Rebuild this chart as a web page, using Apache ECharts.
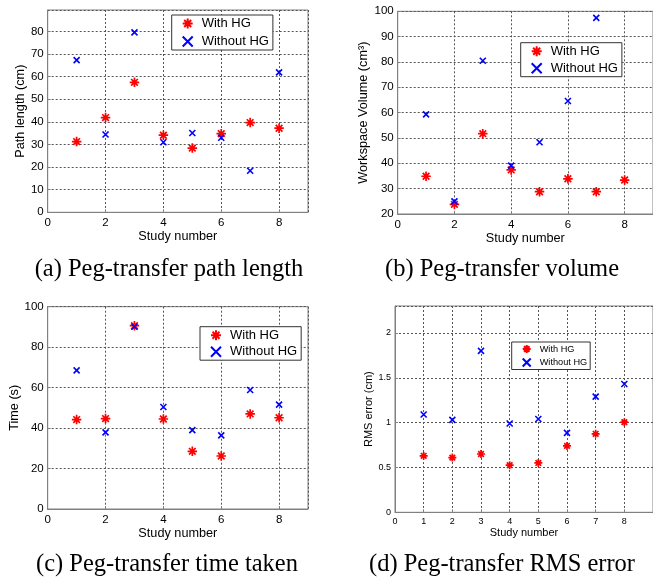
<!DOCTYPE html>
<html>
<head>
<meta charset="utf-8">
<script src="https://cdn.jsdelivr.net/npm/echarts@6/dist/echarts.min.js"></script>
<style>
  html, body { margin: 0; padding: 0; background: #fff; }
  #main { width: 653px; height: 581px; }
</style>
</head>
<body>
<div id="main"></div>
<script>
// study numbers on the x axis
var studies = [1, 2, 3, 4, 5, 6, 7, 8];

// (a) path length (cm)
var pathWithHG = [31.3, 41.9, 57.5, 34.1, 28.4, 34.8, 39.7, 37.2];
var pathWithoutHG = [67.3, 34.4, 79.6, 31.0, 35.1, 33.0, 18.4, 61.9];
// (b) workspace volume (cm3) - no point visible for study 8 without HG
var volWithHG = [34.9, 23.8, 51.7, 37.4, 28.8, 33.9, 28.8, 33.4];
var volWithoutHG = [59.3, 25.0, 80.5, 39.1, 48.3, 64.6, 97.4, null];
// (c) time taken (s)
var timeWithHG = [44.2, 44.7, 90.6, 44.5, 28.5, 26.2, 47.0, 45.1];
var timeWithoutHG = [68.5, 37.9, 90.1, 50.4, 39.0, 36.4, 58.8, 51.6];
// (d) RMS error (cm)
var rmsWithHG = [0.63, 0.61, 0.65, 0.525, 0.55, 0.74, 0.875, 1.005];
var rmsWithoutHG = [1.09, 1.03, 1.80, 0.99, 1.04, 0.886, 1.29, 1.43];

var captions = [
  "(a) Peg-transfer path length",
  "(b) Peg-transfer volume",
  "(c) Peg-transfer time taken",
  "(d) Peg-transfer RMS error"
];

// matlab style markers
var starIcon = "path://M5,0L5,10M0,5L10,5M1.5,1.5L8.5,8.5M8.5,1.5L1.5,8.5";
var crossIcon = "path://M0,0L10,10M10,0L0,10";

function pairs(ys) {
  var out = [];
  ys.forEach(function (y, i) {
    if (y !== null) out.push([studies[i], y]);
  });
  return out;
}

var myChart = echarts.init(document.getElementById("main"));

// layout of the four panels
var panels = [
  { grid: { left: 47.7, top: 10, width: 260.3, height: 202.3 },
    ymin: 0, ymax: 89.5, yint: 10, xint: 2, yName: "Path length (cm)", yGap: 21, xGap: 16,
    w: pathWithHG, wo: pathWithoutHG, fs: 11.5, nfs: 12.7, lfs: 13,
    legend: { left: 171.7, top: 15, padding: [2, 4, 2, 10], itemGap: 5 } },
  { grid: { left: 397.7, top: 11.3, width: 258.3, height: 202.7 },
    ymin: 20, ymax: 100, yint: 10, xint: 2, yName: "Workspace Volume (cm\u00b3)", yGap: 28, xGap: 16,
    w: volWithHG, wo: volWithoutHG, fs: 11.5, nfs: 12.7, lfs: 13,
    legend: { left: 520.7, top: 42.7, padding: [2, 4, 2, 10], itemGap: 4 } },
  { grid: { left: 47.7, top: 306.7, width: 260.3, height: 202.3 },
    ymin: 0, ymax: 100, yint: 20, xint: 2, yName: "Time (s)", yGap: 27, xGap: 15,
    w: timeWithHG, wo: timeWithoutHG, fs: 11.5, nfs: 12.7, lfs: 13,
    legend: { left: 200, top: 326.7, padding: [2, 4, 2, 10], itemGap: 3.5 } },
  { grid: { left: 395, top: 306, width: 260.7, height: 206.3 },
    ymin: 0, ymax: 2.3, yint: 0.5, xint: 1, yName: "RMS error (cm)", yGap: 20, xGap: 14,
    w: rmsWithHG, wo: rmsWithoutHG, fs: 9, nfs: 11, lfs: 9.2,
    legend: { left: 511.7, top: 342, padding: [2, 3, 2, 10], itemGap: 3.5 } }
];

var grids = [], xAxes = [], yAxes = [], series = [], legends = [];

panels.forEach(function (p, i) {
  grids.push(Object.assign({ show: true, borderColor: "#808080", borderWidth: 1, containLabel: false }, p.grid));

  var common = {
    gridIndex: i,
    type: "value",
    axisLine: { show: true, lineStyle: { color: "#808080", width: 1 } },
    axisTick: { show: true, inside: true, length: 3, lineStyle: { color: "#808080" } },
    splitLine: { show: true, lineStyle: { color: "#555", type: [2, 2], width: 1 } },
    axisLabel: { color: "#000", fontSize: p.fs, fontFamily: "Liberation Sans", showMaxLabel: false },
    nameTextStyle: { color: "#000", fontSize: p.nfs, fontFamily: "Liberation Sans" },
    nameLocation: "middle"
  };

  xAxes.push(Object.assign({}, common, {
    min: 0, max: 9, interval: p.xint,
    name: "Study number", nameGap: p.xGap,
    axisLabel: Object.assign({}, common.axisLabel, { margin: 5 })
  }));

  yAxes.push(Object.assign({}, common, {
    min: p.ymin, max: p.ymax, interval: p.yint,
    name: p.yName, nameGap: p.yGap,
    axisLabel: Object.assign({}, common.axisLabel, {
      margin: 4, showMaxLabel: p.ymax % p.yint === 0
    })
  }));

  series.push({
    name: "With HG", type: "scatter", xAxisIndex: i, yAxisIndex: i,
    symbol: starIcon, symbolSize: i === 3 ? 8 : 9.5,
    itemStyle: { color: "rgba(0,0,0,0)", borderColor: "#ff0000", borderWidth: 1.7, opacity: 1 },
    data: pairs(p.w), z: 3
  });
  series.push({
    name: "Without HG", type: "scatter", xAxisIndex: i, yAxisIndex: i,
    symbol: crossIcon, symbolSize: 6,
    itemStyle: { color: "rgba(0,0,0,0)", borderColor: "#0000ff", borderWidth: 1.6, opacity: 1 },
    data: pairs(p.wo), z: 4
  });

  legends.push(Object.assign({
    orient: "vertical",
    backgroundColor: "#fff",
    borderColor: "#333",
    borderWidth: 1,
    borderRadius: 0,
    itemWidth: i === 3 ? 8 : 10,
    itemHeight: i === 3 ? 8 : 10,
    selectedMode: false,
    textStyle: { color: "#000", fontSize: p.lfs, fontFamily: "Liberation Sans", padding: [0, 0, 0, 4] },
    data: [
      { name: "With HG", icon: starIcon },
      { name: "Without HG", icon: crossIcon }
    ]
  }, p.legend));
});

var captionFont = "24.5px 'Liberation Serif'";
function caption(text, cx, top) {
  return { type: "text", x: cx, y: top,
    style: { text: text, font: captionFont, fill: "#000", align: "center", verticalAlign: "top" } };
}

var option = {
  animation: false,
  grid: grids,
  xAxis: xAxes,
  yAxis: yAxes,
  legend: legends,
  series: series,
  graphic: [
    caption(captions[0], 169, 257),
    caption(captions[1], 502, 257),
    caption(captions[2], 167, 552),
    caption(captions[3], 502, 552)
  ]
};

myChart.setOption(option);
</script>
</body>
</html>
